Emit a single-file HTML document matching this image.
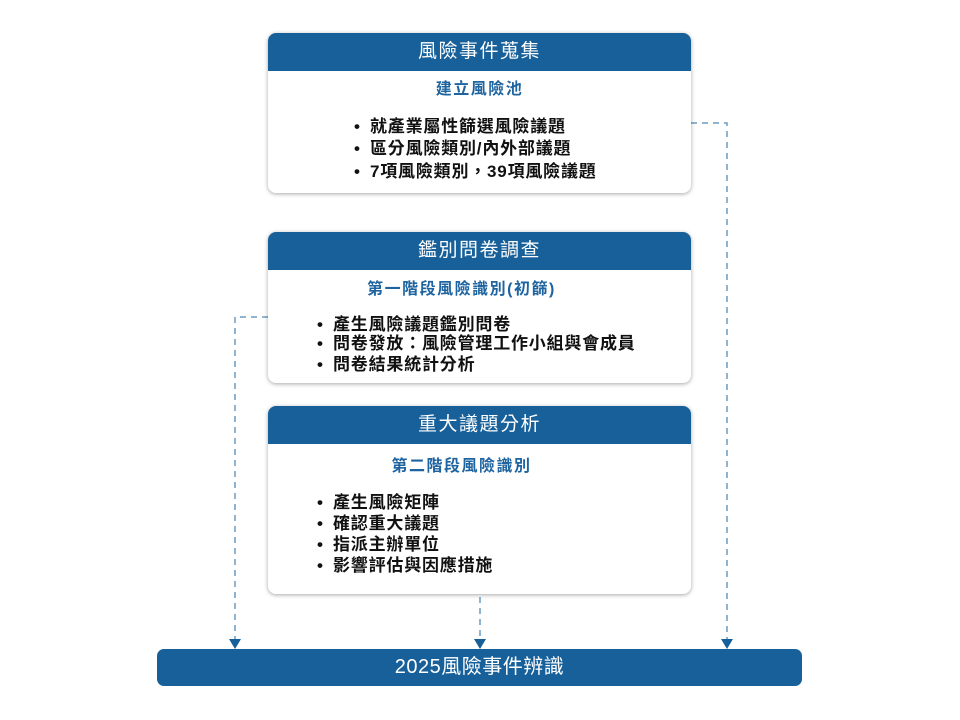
<!DOCTYPE html>
<html><head><meta charset="utf-8"><style>
body{margin:0;width:960px;height:720px;background:#fff;position:relative;font-family:"Liberation Sans","Noto Sans CJK TC",sans-serif;overflow:hidden}
.box{position:absolute;left:268px;width:423px;background:#fff;border-radius:8px;box-shadow:0 1px 4px rgba(0,0,0,.35)}
.hd{height:38px;background:#17609a;color:#fff;border-radius:8px 8px 0 0;text-align:center;line-height:38px;font-size:19px;letter-spacing:1.5px}
.sub{position:absolute;width:100%;text-align:center;color:#1e64a0;font-weight:bold;font-size:16px;letter-spacing:1.5px;line-height:20px}
.li{position:absolute;font-weight:bold;font-size:17px;letter-spacing:0.8px;color:#111;white-space:nowrap;line-height:21px}
.li:before{content:"•";position:absolute;left:-16px;letter-spacing:0}
.bar{position:absolute;left:157px;top:649px;width:645px;height:37px;background:#17609a;border-radius:7px;color:#fff;text-align:center;line-height:37px;font-size:20px;letter-spacing:0.5px}
</style></head><body>
<svg width="960" height="720" style="position:absolute;left:0;top:0">
<g stroke="#6a9cc4" stroke-width="1.5" stroke-dasharray="6,5" fill="none">
<polyline points="691,123 727,123 727,640"/>
<polyline points="268,317 235,317 235,640"/>
<line x1="480" y1="597" x2="480" y2="640"/>
</g>
<g fill="#17609a">
<polygon points="229,639 241,639 235,649"/>
<polygon points="474,639 486,639 480,649"/>
<polygon points="721,639 733,639 727,649"/>
</g>
</svg>
<div class="box" style="top:33px;height:160px"><div class="hd">風險事件蒐集</div>
<div class="sub" style="top:47px">建立風險池</div>
<div class="li" style="left:102px;top:83px">就產業屬性篩選風險議題</div>
<div class="li" style="left:102px;top:105px">區分風險類別/內外部議題</div>
<div class="li" style="left:102px;top:128px">7項風險類別，39項風險議題</div>
</div>
<div class="box" style="top:232px;height:151px"><div class="hd">鑑別問卷調查</div>
<div class="sub" style="top:48px;left:-18px">第一階段風險識別(初篩)</div>
<div class="li" style="left:65px;top:82px">產生風險議題鑑別問卷</div>
<div class="li" style="left:65px;top:101px">問卷發放：風險管理工作小組與會成員</div>
<div class="li" style="left:65px;top:122px">問卷結果統計分析</div>
</div>
<div class="box" style="top:406px;height:188px"><div class="hd">重大議題分析</div>
<div class="sub" style="top:51px;left:-18px">第二階段風險識別</div>
<div class="li" style="left:65px;top:86px">產生風險矩陣</div>
<div class="li" style="left:65px;top:107px">確認重大議題</div>
<div class="li" style="left:65px;top:128px">指派主辦單位</div>
<div class="li" style="left:65px;top:149px">影響評估與因應措施</div>
</div>
<div class="bar">2025風險事件辨識</div>
</body></html>
